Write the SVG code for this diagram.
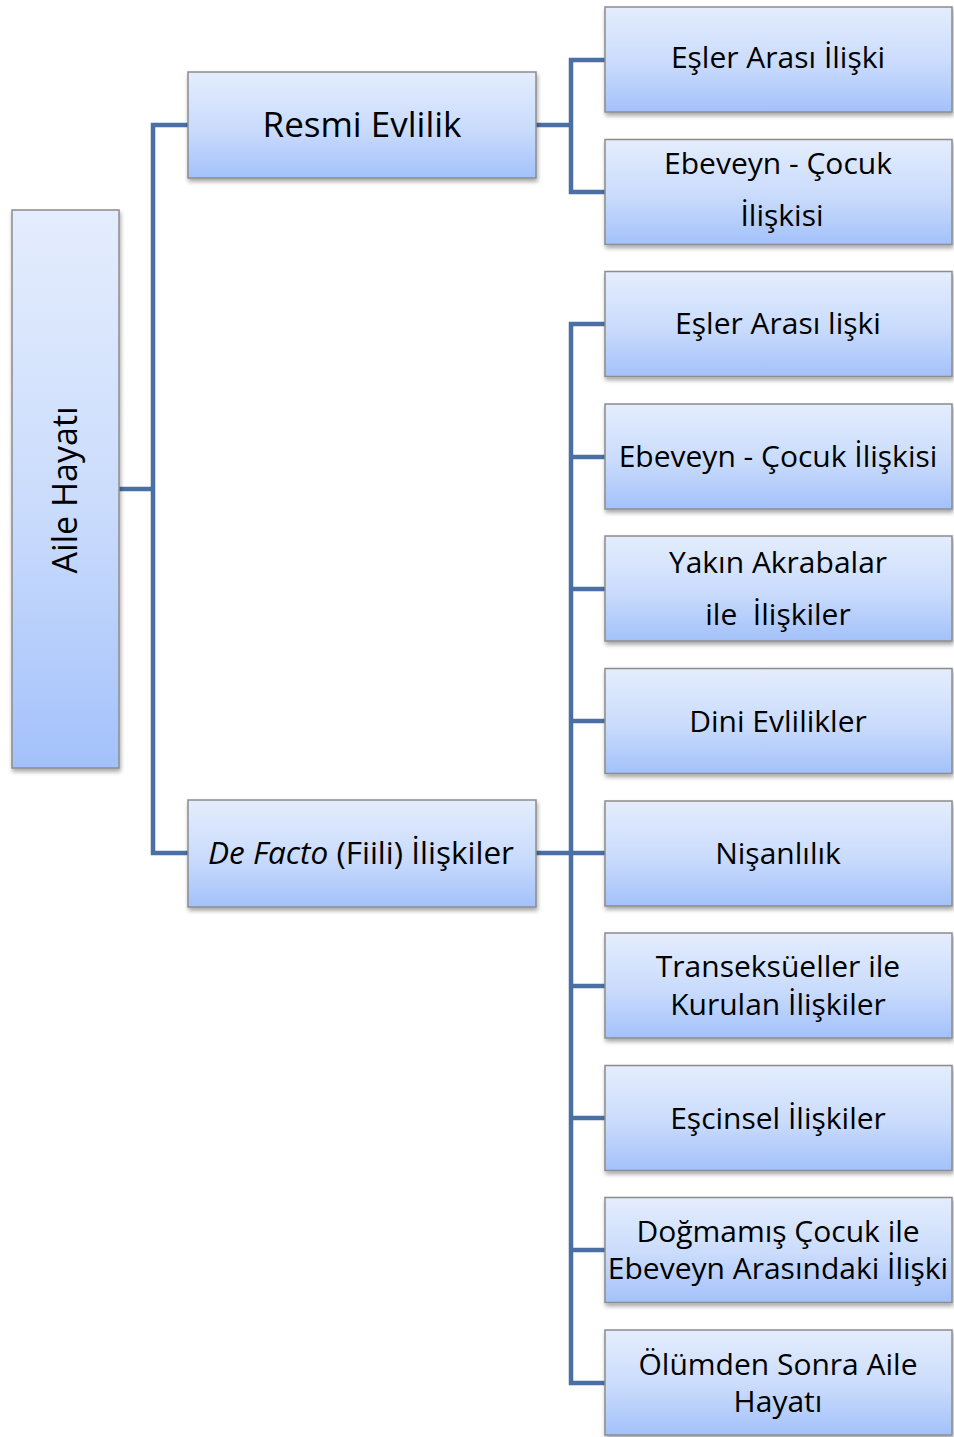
<svg xmlns="http://www.w3.org/2000/svg" width="954" height="1437" viewBox="0 0 954 1437">
<defs>
<linearGradient id="g" x1="0" y1="0" x2="0" y2="1">
<stop offset="0" stop-color="#E4EDFD"/>
<stop offset="0.55" stop-color="#C9DBFC"/>
<stop offset="1" stop-color="#A3C1FA"/>
</linearGradient>
<filter id="sh" x="-10%" y="-10%" width="120%" height="130%">
<feDropShadow dx="1" dy="3" stdDeviation="2" flood-color="#000" flood-opacity="0.35"/>
</filter>
<style>
.box{fill:url(#g);stroke:#8C8C8C;stroke-width:1.5;filter:url(#sh)}
.t{font-family:"Open Sans","Liberation Sans",sans-serif;font-size:30px;fill:#000;text-anchor:middle}
.c{fill:none;stroke:#4A6FA5;stroke-width:4.5;stroke-linejoin:miter}
</style>
</defs>
<g id="connectors">
<path class="c" d="M119,489 H153 M188,125 H153 V853 H188"/>
<path class="c" d="M536,125 H571 M605,60 H571 V192 H605"/>
<path class="c" d="M536,853 H605 M605,324 H571 V1383 H605 M571,457 H605 M571,589 H605 M571,721 H605 M571,986 H605 M571,1118 H605 M571,1250 H605"/>
</g>
<g id="root"><rect class="box" x="12" y="210" width="107" height="558"/><text class="t" style="font-size:34px" transform="translate(77,490) rotate(-90)">Aile Hayatı</text></g>
<g id="resmi"><rect class="box" x="188" y="72" width="348" height="106"/><text class="t" style="font-size:35px" x="362" y="137">Resmi Evlilik</text></g>
<g id="defacto"><rect class="box" x="188" y="800" width="348" height="107"/><text class="t" style="font-size:31.5px" x="361" y="864"><tspan font-style="italic">De Facto</tspan> (Fiili) İlişkiler</text></g>
<g id="n1"><rect class="box" x="605" y="7" width="347" height="105"/><text class="t" x="778" y="68">Eşler Arası İlişki</text></g>
<g id="n2"><rect class="box" x="605" y="139.5" width="347" height="105"/><text class="t" x="778" y="174">Ebeveyn - Çocuk</text><text class="t" x="782" y="226">İlişkisi</text></g>
<g id="n3"><rect class="box" x="605" y="271.5" width="347" height="105"/><text class="t" x="778" y="334">Eşler Arası lişki</text></g>
<g id="n4"><rect class="box" x="605" y="404" width="347" height="105"/><text class="t" x="778" y="467">Ebeveyn - Çocuk İlişkisi</text></g>
<g id="n5"><rect class="box" x="605" y="536" width="347" height="105"/><text class="t" x="778" y="573">Yakın Akrabalar</text><text class="t" x="778" y="625" xml:space="preserve">ile  İlişkiler</text></g>
<g id="n6"><rect class="box" x="605" y="668.5" width="347" height="105"/><text class="t" x="778" y="732">Dini Evlilikler</text></g>
<g id="n7"><rect class="box" x="605" y="801" width="347" height="105"/><text class="t" x="778" y="864">Nişanlılık</text></g>
<g id="n8"><rect class="box" x="605" y="933" width="347" height="105"/><text class="t" x="778" y="977">Transeksüeller ile</text><text class="t" x="778" y="1015">Kurulan İlişkiler</text></g>
<g id="n9"><rect class="box" x="605" y="1065.5" width="347" height="105"/><text class="t" x="778" y="1129">Eşcinsel İlişkiler</text></g>
<g id="n10"><rect class="box" x="605" y="1197.5" width="347" height="105"/><text class="t" x="778" y="1242">Doğmamış Çocuk ile</text><text class="t" x="778" y="1279">Ebeveyn Arasındaki İlişki</text></g>
<g id="n11"><rect class="box" x="605" y="1330" width="347" height="105"/><text class="t" x="778" y="1375">Ölümden Sonra Aile</text><text class="t" x="778" y="1412">Hayatı</text></g>
</svg>
